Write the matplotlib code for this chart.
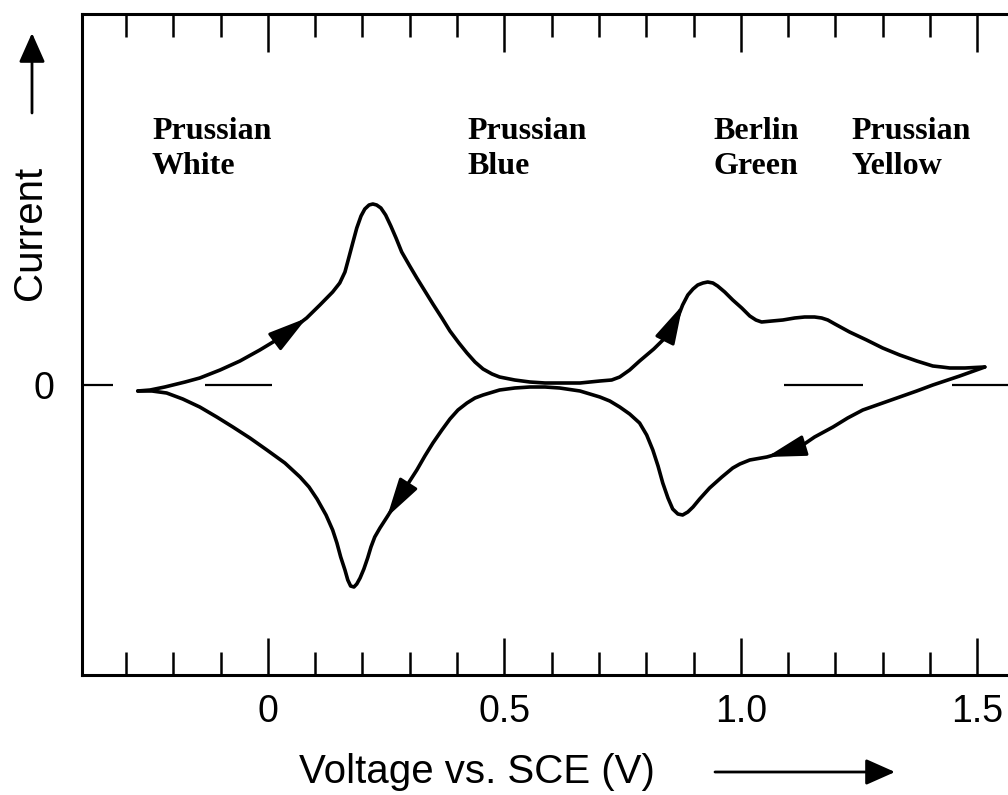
import numpy as np
import matplotlib
matplotlib.use("Agg")
import matplotlib.pyplot as plt
from matplotlib.ticker import MultipleLocator


# anodic (forward) scan, voltage vs SCE (V) and current (arb. units)
v_fwd = [-0.275, -0.249, -0.218, -0.175, -0.144, -0.101, -0.059, -0.017, 0.025, 0.057,
         0.082, 0.110, 0.137, 0.152, 0.163, 0.171, 0.180, 0.188, 0.197, 0.205,
         0.214, 0.222, 0.230, 0.239, 0.249, 0.260, 0.271, 0.283, 0.300, 0.315,
         0.332, 0.349, 0.368, 0.385, 0.404, 0.421, 0.438, 0.455, 0.474, 0.490,
         0.522, 0.554, 0.586, 0.617, 0.660, 0.702, 0.727, 0.744, 0.765, 0.786,
         0.816, 0.844, 0.863, 0.877, 0.888, 0.899, 0.909, 0.920, 0.930, 0.941,
         0.951, 0.966, 0.983, 1.002, 1.019, 1.032, 1.044, 1.066, 1.089, 1.114,
         1.135, 1.156, 1.171, 1.184, 1.199, 1.230, 1.266, 1.300, 1.336, 1.372,
         1.406, 1.425, 1.442, 1.474, 1.516]
i_fwd = [-0.06, -0.05, -0.02, 0.03, 0.07, 0.15, 0.24, 0.35, 0.47, 0.58,
         0.67, 0.80, 0.93, 1.02, 1.13, 1.27, 1.43, 1.57, 1.69, 1.76,
         1.80, 1.81, 1.80, 1.77, 1.70, 1.59, 1.47, 1.33, 1.19, 1.07,
         0.94, 0.81, 0.67, 0.54, 0.42, 0.32, 0.23, 0.16, 0.11, 0.08,
         0.05, 0.03, 0.02, 0.02, 0.02, 0.04, 0.05, 0.08, 0.15, 0.24,
         0.36, 0.49, 0.63, 0.80, 0.90, 0.96, 1.00, 1.02, 1.03, 1.02,
         0.99, 0.93, 0.85, 0.77, 0.69, 0.65, 0.63, 0.64, 0.65, 0.67,
         0.68, 0.68, 0.67, 0.65, 0.61, 0.53, 0.45, 0.37, 0.30, 0.24,
         0.19, 0.18, 0.17, 0.17, 0.18]

# cathodic (reverse) scan
v_rev = [1.516, 1.463, 1.406, 1.372, 1.336, 1.294, 1.258, 1.226, 1.195, 1.156,
         1.125, 1.093, 1.055, 1.019, 0.998, 0.983, 0.960, 0.934, 0.913, 0.899,
         0.888, 0.877, 0.867, 0.856, 0.846, 0.835, 0.825, 0.814, 0.801, 0.786,
         0.765, 0.744, 0.723, 0.702, 0.660, 0.617, 0.586, 0.554, 0.522, 0.490,
         0.469, 0.455, 0.438, 0.421, 0.402, 0.385, 0.368, 0.349, 0.332, 0.315,
         0.296, 0.279, 0.264, 0.252, 0.237, 0.226, 0.218, 0.211, 0.203, 0.195,
         0.188, 0.182, 0.175, 0.169, 0.163, 0.154, 0.146, 0.137, 0.123, 0.104,
         0.087, 0.068, 0.036, -0.002, -0.038, -0.074, -0.108, -0.144, -0.180, -0.214,
         -0.245, -0.275]
i_rev = [0.18, 0.09, 0.00, -0.06, -0.12, -0.19, -0.25, -0.33, -0.42, -0.52,
         -0.62, -0.67, -0.72, -0.75, -0.79, -0.83, -0.92, -1.03, -1.14, -1.22,
         -1.27, -1.30, -1.29, -1.24, -1.13, -0.98, -0.81, -0.65, -0.50, -0.38,
         -0.29, -0.22, -0.16, -0.12, -0.06, -0.03, -0.02, -0.02, -0.03, -0.05,
         -0.08, -0.10, -0.13, -0.18, -0.25, -0.34, -0.45, -0.58, -0.71, -0.85,
         -0.99, -1.12, -1.23, -1.32, -1.43, -1.52, -1.62, -1.73, -1.84, -1.93,
         -1.99, -2.02, -2.01, -1.95, -1.85, -1.72, -1.58, -1.45, -1.30, -1.14,
         -1.02, -0.92, -0.78, -0.65, -0.53, -0.42, -0.32, -0.22, -0.14, -0.08,
         -0.06, -0.06]

# arrow tips (index into scan) showing scan direction
fwd_arrows = [10, 53]
rev_arrows = [12, 53]

# zero-current reference dashes (start, end in V)
zero_dashes = [(-0.40, -0.328), (-0.133, 0.008), (1.091, 1.258), (1.446, 1.60)]

phases = ["Prussian\nWhite", "Prussian\nBlue", "Berlin\nGreen", "Prussian\nYellow"]
phase_v = [-0.245, 0.421, 0.943, 1.235]
phase_i = 2.11

xticks = [0, 0.5, 1.0, 1.5]
xticklabels = ["0", "0.5", "1.0", "1.5"]

fig = plt.figure(figsize=(10.08, 7.95), dpi=100)
ax = fig.add_axes([82 / 1008, 120 / 795, 926 / 1008, 661 / 795])

ax.plot(v_fwd, i_fwd, color="black", lw=2.6, solid_joinstyle="round", solid_capstyle="round")
ax.plot(v_rev, i_rev, color="black", lw=2.6, solid_joinstyle="round", solid_capstyle="round")

arrow_style = "-|>,head_length=2.4,head_width=0.65"
for v, c, idx in [(v_fwd, i_fwd, k) for k in fwd_arrows] + [(v_rev, i_rev, k) for k in rev_arrows]:
    ax.annotate("", xy=(v[idx], c[idx]), xytext=(v[idx - 2], c[idx - 2]),
                arrowprops=dict(arrowstyle=arrow_style, color="black", lw=2.2,
                                shrinkA=0, shrinkB=0))

ax.hlines([0] * len(zero_dashes), [d[0] for d in zero_dashes], [d[1] for d in zero_dashes],
          color="black", lw=1.6)

for name, xv in zip(phases, phase_v):
    ax.text(xv, phase_i, name, family="Liberation Serif", weight="bold", fontsize=23,
            ha="left", va="baseline", linespacing=1.29)

ax.set_xlim(-0.393, 1.565)
ax.set_ylim(-2.90, 3.71)

ax.set_xticks(xticks)
ax.set_xticklabels(xticklabels, family="Liberation Sans", fontsize=27)
ax.xaxis.set_minor_locator(MultipleLocator(0.1))
ax.tick_params(axis="x", which="major", direction="in", length=27, width=1.8,
               top=True, bottom=True, pad=14)
ax.tick_params(axis="x", which="minor", direction="in", length=16.5, width=1.8,
               top=True, bottom=True)

ax.set_yticks([0])
ax.set_yticklabels(["0"], family="Liberation Sans", fontsize=27)
ax.tick_params(axis="y", length=0, pad=20)

for side in ["left", "top", "bottom"]:
    ax.spines[side].set_linewidth(2.2)
ax.spines["right"].set_visible(False)

fig.text(30 / 1008, 1 - 233 / 795, "Current", rotation=90, family="Liberation Sans",
         fontsize=29, ha="center", va="center")
fig.text(477 / 1008, 1 - 772 / 795, "Voltage vs. SCE (V)", family="Liberation Sans",
         fontsize=29, ha="center", va="center")

ax_style = dict(arrowstyle="-|>,head_length=1.8,head_width=0.8", color="black", lw=2,
                shrinkA=0, shrinkB=0)
ax.annotate("", xy=(32 / 1008, 1 - 33 / 795), xytext=(32 / 1008, 1 - 113 / 795),
            xycoords="figure fraction", textcoords="figure fraction", arrowprops=ax_style,
            annotation_clip=False)
ax.annotate("", xy=(895 / 1008, 1 - 772 / 795), xytext=(715 / 1008, 1 - 772 / 795),
            xycoords="figure fraction", textcoords="figure fraction", arrowprops=ax_style,
            annotation_clip=False)

fig.savefig("out.png", dpi=100)
